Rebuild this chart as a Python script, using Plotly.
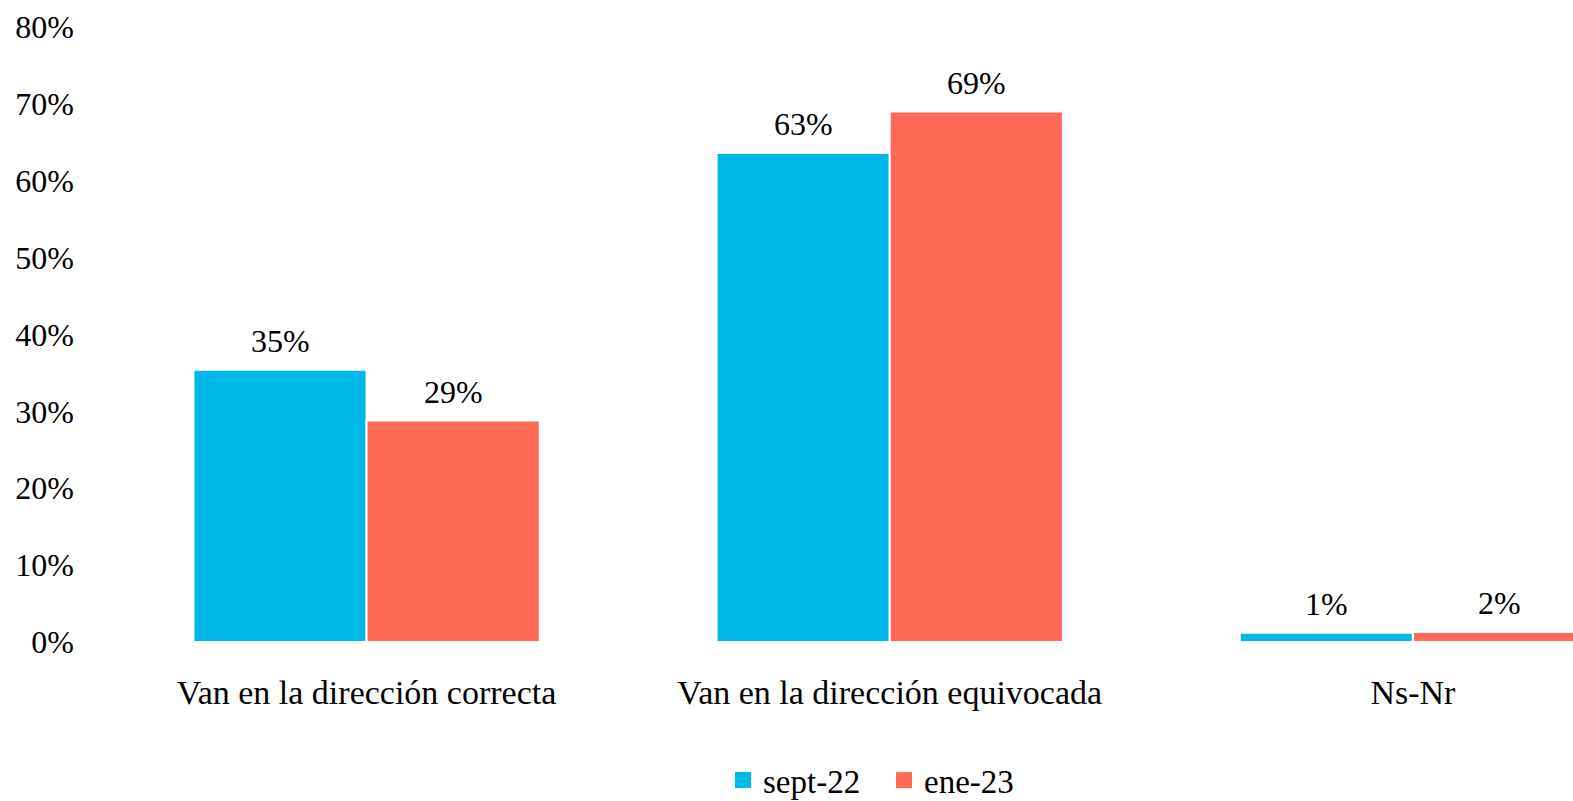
import plotly.graph_objects as go

categories = ["Van en la dirección correcta", "Van en la dirección equivocada", "Ns-Nr"]
series_names = ["sept-22", "ene-23"]
sept22 = [35.4, 63.6, 1.2]
ene23 = [28.8, 69.0, 1.3]
sept22_labels = ["35%", "63%", "1%"]
ene23_labels = ["29%", "69%", "2%"]
y_ticks = [0, 10, 20, 30, 40, 50, 60, 70, 80]
y_tick_labels = [f"{v}%" for v in y_ticks]

colors = ["#00B9E8", "#FF6956"]
FONT = "Palatino Linotype, Book Antiqua, Palatino, Liberation Serif, serif"
FS = 32

x = list(range(len(categories)))
bargap = 0.338
bar_w = (1 - bargap) / 2

fig = go.Figure()
for name, vals, col in [(series_names[0], sept22, colors[0]), (series_names[1], ene23, colors[1])]:
    fig.add_trace(go.Bar(
        x=x, y=vals, name=name, showlegend=False,
        marker=dict(color=col, line=dict(color="white", width=2)),
        hoverinfo="skip",
    ))
# legend entries with larger square swatches
for name, col in zip(series_names, colors):
    fig.add_trace(go.Scatter(
        x=[None], y=[None], name=name, mode="markers",
        marker=dict(symbol="square", size=18, color=col), showlegend=True,
    ))

annotations = []
for k, (vals, labs) in enumerate([(sept22, sept22_labels), (ene23, ene23_labels)]):
    off = (k - 0.5) * bar_w
    for i, (v, t) in enumerate(zip(vals, labs)):
        annotations.append(dict(
            x=i + off, y=v, xref="x", yref="y", text=t, showarrow=False,
            yanchor="bottom", yshift=9, font=dict(family=FONT, size=FS, color="black"),
        ))

fig.update_layout(
    width=1573, height=801,
    margin=dict(l=105, r=0, t=27, b=159, autoexpand=False),
    paper_bgcolor="white", plot_bgcolor="white",
    barmode="group", bargap=bargap, bargroupgap=0,
    font=dict(family=FONT, size=FS, color="black"),
    showlegend=True,
    legend=dict(orientation="h", x=0.421, xanchor="left", y=0.026, yanchor="middle",
                yref="container", entrywidth=116,
                font=dict(family=FONT, size=33, color="black"), itemwidth=30,
                traceorder="normal"),
    annotations=annotations,
    xaxis=dict(range=[-0.5, 2.306], tickmode="array", tickvals=x, ticktext=categories,
               showgrid=False, zeroline=False, showline=False, ticks="",
               tickfont=dict(family=FONT, size=34, color="black"),
               ticklabelstandoff=27, fixedrange=True, automargin=False),
    yaxis=dict(range=[0, 80], tickmode="array", tickvals=y_ticks, ticktext=y_tick_labels,
               showgrid=False, zeroline=False, showline=False, ticks="",
               ticklabelstandoff=30, fixedrange=True, automargin=False),
)

fig.write_html("out.html", config={"displayModeBar": False},
               post_script="document.body.style.margin='0';document.body.style.overflow='hidden';")
